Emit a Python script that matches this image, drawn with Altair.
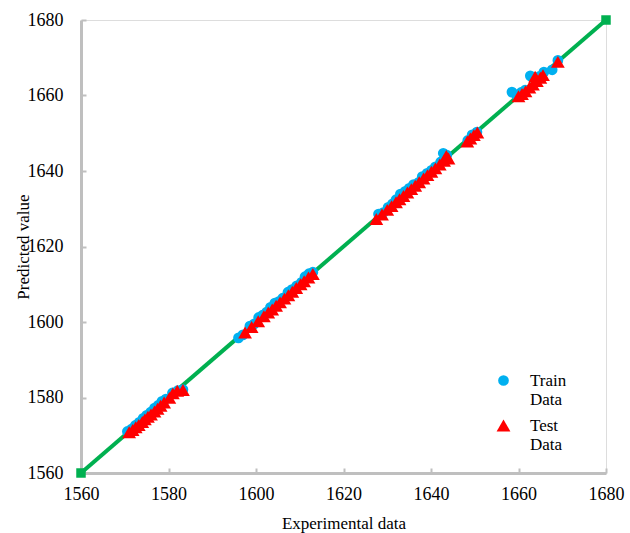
import altair as alt
import pandas as pd

# Training set: experimental vs predicted
train_x = [1570.6, 1571.5, 1572.4, 1573.3, 1574.2, 1575.0, 1575.9, 1576.8, 1577.6, 1578.5,
           1579.4, 1580.9, 1582.1, 1583.3,
           1596.0, 1597.0, 1598.6, 1599.6, 1600.6, 1601.5, 1602.4, 1603.3, 1604.3, 1605.2,
           1606.1, 1607.3, 1608.2, 1609.3, 1610.4, 1611.2, 1612.1, 1613.0,
           1628.0, 1629.1, 1630.2, 1631.2, 1632.0, 1633.0, 1634.1, 1635.0, 1636.0, 1637.2,
           1638.0, 1639.1, 1640.1, 1641.0, 1642.2, 1642.8, 1643.6,
           1648.4, 1649.4, 1650.5, 1658.5, 1659.5, 1660.6, 1661.5, 1662.7, 1663.6, 1664.8,
           1665.8, 1667.7, 1669.0]
train_y = [1571.0, 1571.6, 1572.6, 1573.4, 1574.5, 1575.3, 1576.1, 1577.2, 1577.9, 1579.0,
           1579.6, 1581.2, 1581.8, 1582.1,
           1595.8, 1596.6, 1598.9, 1599.5, 1601.2, 1601.8, 1602.6, 1603.9, 1605.0, 1605.4,
           1606.3, 1607.9, 1608.6, 1609.6, 1610.5, 1612.0, 1612.8, 1613.2,
           1628.6, 1629.0, 1630.4, 1631.3, 1632.4, 1633.9, 1634.6, 1635.4, 1636.4, 1637.0,
           1638.5, 1639.4, 1640.2, 1641.1, 1642.4, 1644.7, 1644.2,
           1648.1, 1649.6, 1650.3, 1660.9, 1660.2, 1660.8, 1661.4, 1665.2, 1664.6, 1665.1,
           1666.2, 1666.8, 1669.3]

# Test set: experimental vs predicted
test_x = [1571.0, 1571.8, 1572.5, 1573.2, 1574.0, 1574.6, 1575.3, 1576.0, 1576.8, 1577.5,
          1578.2, 1579.0, 1580.2, 1581.0, 1582.0, 1583.3,
          1597.5, 1599.0, 1600.5, 1601.8, 1602.8, 1603.7, 1604.6, 1605.5, 1606.5, 1607.4,
          1608.3, 1609.2, 1610.2, 1611.0, 1612.0, 1613.0,
          1627.5, 1628.8, 1630.0, 1631.0, 1632.0, 1632.8, 1633.7, 1634.6, 1635.5, 1636.4,
          1637.3, 1638.3, 1639.2, 1640.1, 1641.0, 1642.0, 1643.0, 1643.5, 1644.0,
          1648.3, 1649.0, 1649.8, 1650.6, 1660.0, 1660.8, 1661.6, 1662.5, 1663.3, 1664.2,
          1665.0, 1663.8, 1665.6, 1669.0]
test_y = [1570.8, 1571.4, 1572.1, 1572.7, 1573.5, 1574.2, 1574.9, 1575.5, 1576.3, 1577.0,
          1577.8, 1578.7, 1579.9, 1581.1, 1581.8, 1582.0,
          1597.2, 1598.7, 1600.2, 1601.5, 1602.5, 1603.3, 1604.3, 1605.2, 1606.2, 1607.1,
          1608.0, 1609.0, 1610.0, 1610.8, 1611.8, 1612.7,
          1627.3, 1628.5, 1629.7, 1630.7, 1631.7, 1632.5, 1633.4, 1634.3, 1635.2, 1636.1,
          1637.0, 1638.0, 1638.9, 1639.8, 1640.7, 1641.7, 1642.7, 1644.0, 1643.3,
          1647.8, 1648.6, 1649.5, 1650.2, 1659.8, 1660.4, 1661.1, 1662.1, 1662.9, 1663.8,
          1664.7, 1665.0, 1665.4, 1668.9]

# Ideal y = x reference line end points
ideal = [1560, 1680]
ticks = [1560, 1580, 1600, 1620, 1640, 1660, 1680]

series = ["Train Data", "Test Data"]
colors = ["#00b0f0", "#ff0000"]
shapes = ["circle", "triangle-up"]
sizes = [115, 190]

pts = pd.concat([
    pd.DataFrame({"exp": train_x, "pred": train_y, "set": "Train Data", "ord": 0}),
    pd.DataFrame({"exp": test_x, "pred": test_y, "set": "Test Data", "ord": 1}),
], ignore_index=True)
line_df = pd.DataFrame({"exp": ideal, "pred": ideal})

FONT = "Liberation Serif"
GRAY = "#bfbfbf"

xscale = alt.Scale(domain=[1560, 1680], nice=False, zero=False)
yscale = alt.Scale(domain=[1560, 1680], nice=False, zero=False)

common = dict(values=ticks, grid=False, format="d", labelFlush=False,
              domainColor=GRAY, domainWidth=3, labelFont=FONT, labelFontSize=18,
              labelColor="black", titleFont=FONT, titleFontSize=17,
              titleFontWeight="normal", titleColor="black")

main_x = alt.Axis(orient="bottom", title="Experimental data", ticks=False,
                  labelPadding=12, titlePadding=12, **common)
main_y = alt.Axis(orient="left", title="Predicted value", ticks=False,
                  labelPadding=18, titlePadding=-5, **common)

# Short inward tick marks along the bottom and left frame
tick_x = alt.Axis(orient="bottom", values=ticks, title=None, labels=False, domain=False,
                  grid=False, ticks=True, tickSize=5, tickColor=GRAY, tickWidth=2, offset=-5)
tick_y = alt.Axis(orient="left", values=ticks, title=None, labels=False, domain=False,
                  grid=False, ticks=True, tickSize=5, tickColor=GRAY, tickWidth=2, offset=-5)

line = alt.Chart(line_df).mark_line(
    color="#00b050", strokeWidth=4,
    point=alt.OverlayMarkDef(shape="square", filled=True, color="#00b050", size=90, opacity=1),
).encode(
    x=alt.X("exp:Q", scale=xscale, axis=main_x),
    y=alt.Y("pred:Q", scale=yscale, axis=main_y),
)

tick_layer = alt.Chart(line_df).mark_point(opacity=0).encode(
    x=alt.X("exp:Q", scale=xscale, axis=tick_x),
    y=alt.Y("pred:Q", scale=yscale, axis=tick_y),
)

points = alt.Chart(pts).mark_point(filled=True, opacity=1).encode(
    x=alt.X("exp:Q", scale=xscale, axis=None),
    y=alt.Y("pred:Q", scale=yscale, axis=None),
    color=alt.Color("set:N", scale=alt.Scale(domain=series, range=colors),
                    legend=alt.Legend(title=None, orient="none", legendX=414, legendY=352,
                                      labelFont=FONT, labelFontSize=17, labelColor="black",
                                      labelOffset=18, rowPadding=8,
                                      labelExpr="split(datum.label, ' ')")),
    shape=alt.Shape("set:N", scale=alt.Scale(domain=series, range=shapes), legend=None),
    size=alt.Size("set:N", scale=alt.Scale(domain=series, range=sizes), legend=None),
    order=alt.Order("ord:Q"),
)

chart = alt.layer(line, tick_layer, points).resolve_axis(
    x="independent", y="independent"
).properties(
    width=525, height=453,
    padding={"left": 81, "top": 20, "right": 24, "bottom": 60},
    autosize=alt.AutoSizeParams(type="none"),
).configure_view(stroke=GRAY, strokeWidth=3).configure(background="white", font=FONT)

chart.save("out.html", embed_options={"renderer": "svg", "actions": False})
